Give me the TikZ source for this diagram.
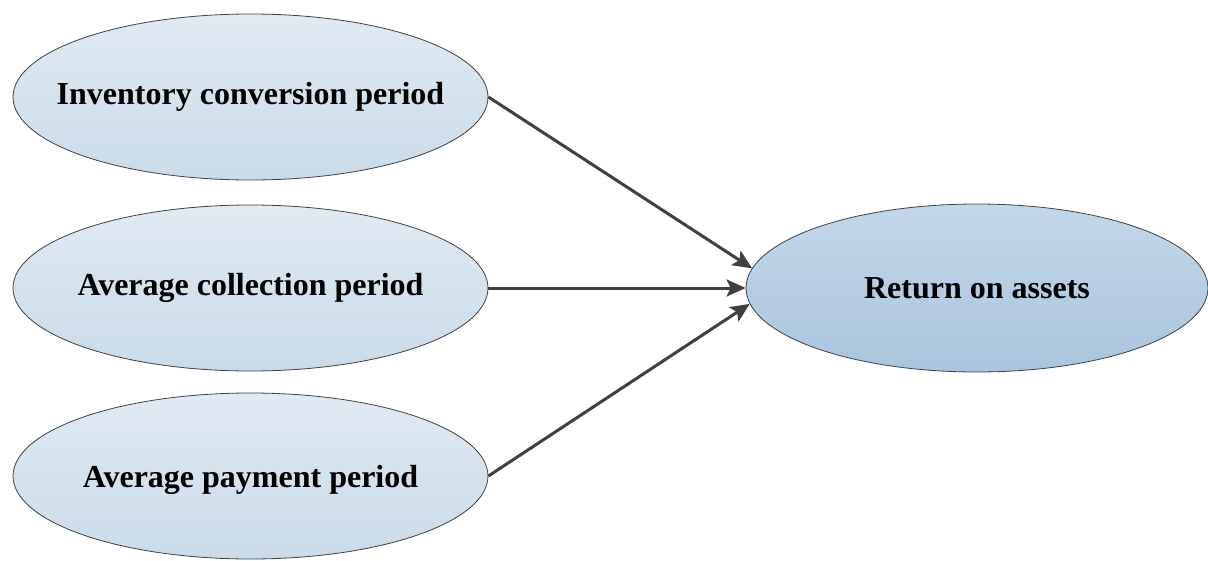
\documentclass[tikz,border=0pt]{standalone}
\usepackage{fontspec}
\setmainfont{Liberation Serif}
\usetikzlibrary{shapes.geometric, arrows.meta}

\definecolor{edgegray}{HTML}{404040}
\definecolor{lefttop}{HTML}{E0EAF3}
\definecolor{leftbot}{HTML}{C9DBEA}
\definecolor{righttop}{HTML}{C3D7E9}
\definecolor{rightbot}{HTML}{A9C5DF}

\tikzset{
    factor/.style={ellipse, draw=edgegray, line width=0.8pt, inner sep=0pt,
        minimum width=475pt, minimum height=166pt,
        top color=lefttop, bottom color=leftbot},
    outcome/.style={factor, minimum width=462pt, minimum height=168pt,
        top color=righttop, bottom color=rightbot},
    caption/.style={inner sep=0pt, font=\fontsize{32}{38}\selectfont\bfseries},
    link/.style={draw=edgegray, line width=3pt, -{Stealth[length=19pt, width=17pt, inset=4pt]}}
}

\begin{document}
\begin{tikzpicture}[x=1pt, y=-1pt]
    \useasboundingbox (0,0) rectangle (1208,560);

    % Ellipses
    \node[factor] (icp) at (250.5,97) {};
    \node[factor] (acp) at (250.5,288) {};
    \node[factor] (app) at (250.5,476) {};
    \node[outcome] (roa) at (977,288) {};

    % Texts
    \node[caption] (icptext) at (icp) {Inventory conversion period};
    \node[caption] (acptext) at (acp) {Average collection period};
    \node[caption] (apptext) at ([yshift=-4pt]app.center) {Average payment period};
    \node[caption] (roatext) at (roa) {Return on assets};

    % Arrows
    \draw[link] (icp.east) -- (roa.175);
    \draw[link] (acp.east) -- (roa.west);
    \draw[link] (app.east) -- (roa.184);
\end{tikzpicture}
\end{document}
